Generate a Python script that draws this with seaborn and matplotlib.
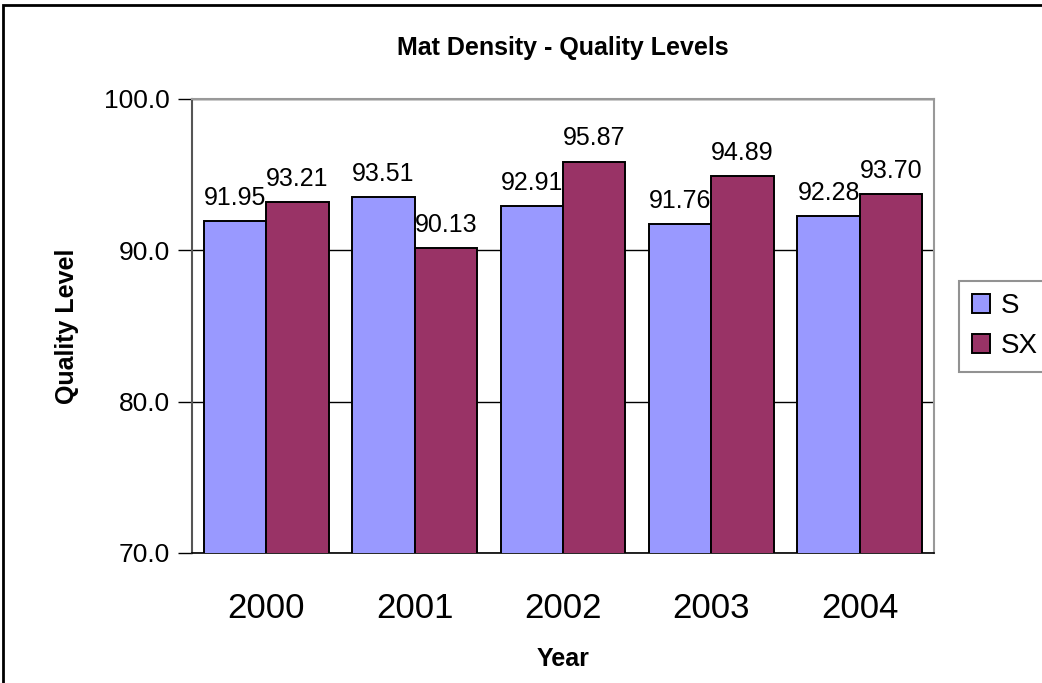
import pandas as pd
import seaborn as sns
import matplotlib.pyplot as plt
from matplotlib.patches import Rectangle

years = ["2000", "2001", "2002", "2003", "2004"]
s_vals = [91.95, 93.51, 92.91, 91.76, 92.28]
sx_vals = [93.21, 90.13, 95.87, 94.89, 93.70]
series = ["S", "SX"]
colors = ["#9999FF", "#993366"]

data = pd.DataFrame({
    "Year": years * 2,
    "Quality Level": s_vals + sx_vals,
    "Series": ["S"] * len(years) + ["SX"] * len(years),
})

sns.set_style("white")
plt.rcParams['font.family'] = ['Liberation Sans', 'DejaVu Sans']
plt.rcParams['text.color'] = 'black'
plt.rcParams['axes.labelcolor'] = 'black'
plt.rcParams['xtick.color'] = 'black'
plt.rcParams['ytick.color'] = 'black'

fig = plt.figure(figsize=(10.42, 6.83), dpi=100)
ax = fig.add_axes([192 / 1042, 1 - 553 / 683, 742 / 1042, 454 / 683])

sns.barplot(data=data, x="Year", y="Quality Level", hue="Series",
            palette=colors, width=0.84, edgecolor="black", linewidth=1.4,
            saturation=1, ax=ax, zorder=3)

for cont in ax.containers:
    ax.bar_label(cont, fmt="%.2f", fontsize=18, padding=8, color="black")

ax.set_ylim(70, 100)
ax.set_xlim(-0.5, 4.5)
ax.set_yticks([70, 80, 90, 100])
ax.set_yticklabels(["70.0", "80.0", "90.0", "100.0"], fontsize=19)
ax.yaxis.grid(True, color="black", linewidth=1, zorder=0)
ax.set_axisbelow(True)

ax.set_xticks(range(len(years)))
ax.set_xticklabels(years, fontsize=25)
ax.set_xticks([i - 0.5 for i in range(len(years) + 1)], minor=True)
ax.tick_params(axis="x", which="major", length=0, pad=28)
ax.tick_params(axis="x", which="minor", length=10, width=1, color="black", direction="out")
ax.tick_params(axis="y", length=10, width=1, color="black", direction="out", left=True, pad=6)

for side in ["top", "right"]:
    ax.spines[side].set_color("#999999")
    ax.spines[side].set_linewidth(1.5)
ax.spines["left"].set_color("#555555")
ax.spines["left"].set_linewidth(1.5)
ax.spines["bottom"].set_color("black")
ax.spines["bottom"].set_linewidth(1.2)

ax.set_xlabel("Year", fontsize=18, fontweight="bold", labelpad=16)
ax.set_ylabel("Quality Level", fontsize=18, fontweight="bold", labelpad=18)
ax.set_title("Mat Density - Quality Levels", fontsize=18, fontweight="bold", pad=32)

handles, labels = ax.get_legend_handles_labels()
ax.legend(handles, labels, loc="upper left",
          bbox_to_anchor=(959 / 1042, 1 - 281 / 683), bbox_transform=fig.transFigure,
          fontsize=20, frameon=True, fancybox=False, edgecolor="#777777",
          handlelength=0.65, handleheight=0.65, handletextpad=0.4,
          labelspacing=0.5, borderpad=0.45, borderaxespad=0)
ax.get_legend().get_frame().set_linewidth(1.5)

fig.patches.append(Rectangle((3 / 1042, -0.1), 1.2, 1 - 5 / 683 + 0.1,
                             transform=fig.transFigure, fill=False,
                             edgecolor="black", linewidth=2))

plt.savefig("out.png", dpi=100)
